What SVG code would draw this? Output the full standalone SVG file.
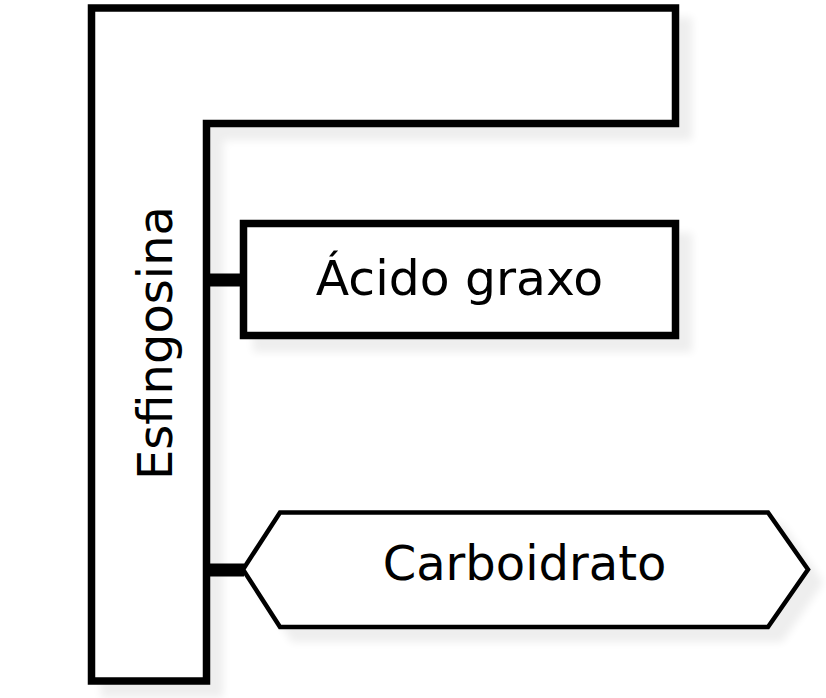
<svg xmlns="http://www.w3.org/2000/svg" width="826" height="698" viewBox="0 0 826 698">
  <defs>
    <filter id="shadow" x="-10%" y="-10%" width="130%" height="130%">
      <feGaussianBlur in="SourceAlpha" stdDeviation="4" result="b"/>
      <feOffset in="b" dx="13" dy="13" result="o"/>
      <feComponentTransfer in="o" result="s">
        <feFuncA type="linear" slope="0.07"/>
      </feComponentTransfer>
      <feMerge>
        <feMergeNode in="s"/>
        <feMergeNode in="SourceGraphic"/>
      </feMerge>
    </filter>
  </defs>
  <style>
    .shape { fill: #ffffff; stroke: #000000; stroke-linejoin: miter; filter: url(#shadow); }
    .thick { stroke-width: 7.5; }
    .thin { stroke-width: 4.5; }
    .label { font-family: "DejaVu Sans", Verdana, sans-serif; font-size: 48px; fill: #000000; text-anchor: middle; }
    .conn { stroke: #000000; stroke-width: 13; fill: none; }
  </style>
  <rect width="826" height="698" fill="#ffffff"/>
  <g id="esfingosina">
    <polygon class="shape thick" points="91.5,8 675.5,8 675.5,123.5 206.5,123.5 206.5,681 91.5,681"/>
    <text class="label" transform="translate(172,343) rotate(-90)">Esfingosina</text>
  </g>
  <g id="connectors">
    <line class="conn" x1="206" y1="280" x2="244" y2="280"/>
    <line class="conn" x1="206" y1="570" x2="244" y2="570"/>
  </g>
  <g id="acido-graxo">
    <rect class="shape thick" x="243.5" y="223.5" width="432" height="112"/>
    <text class="label" x="459.5" y="295" style="font-size:48.8px">Ácido graxo</text>
  </g>
  <g id="carboidrato">
    <polygon class="shape thin" points="243,569.5 280,512.5 768,512.5 808,569.5 768,627 280,627"/>
    <text class="label" x="524.5" y="580">Carboidrato</text>
  </g>
</svg>
